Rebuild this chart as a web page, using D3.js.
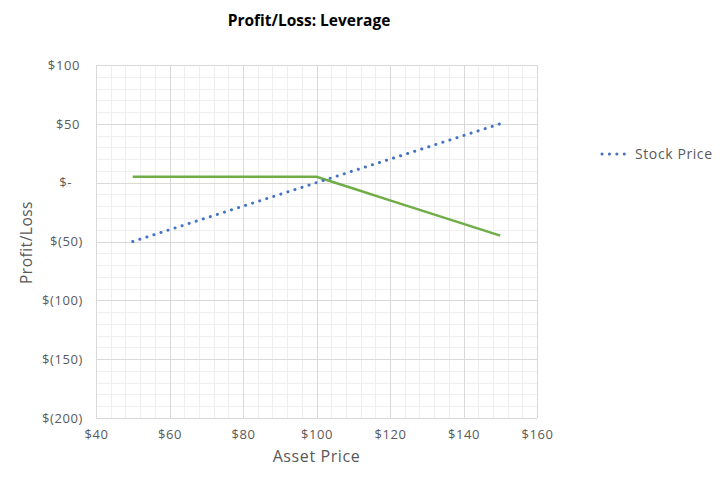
<!DOCTYPE html>
<html>
<head>
<meta charset="utf-8">
<script src="https://cdn.jsdelivr.net/npm/d3@7"></script>
<style>
  body { margin: 0; background: #fff; }
  svg { font-family: "Open Sans", "Noto Sans", sans-serif; }
</style>
</head>
<body>
<svg id="chart" width="720" height="477"></svg>
<script>
// asset price on x, profit/loss on y
var stockPrices = [50, 60, 70, 80, 90, 100, 110, 120, 130, 140, 150];
var stockPL = [-50, -40, -30, -20, -10, 0, 10, 20, 30, 40, 50];
var leveragePrices = [50, 60, 70, 80, 90, 100, 110, 120, 130, 140, 150];
var leveragePL = [5, 5, 5, 5, 5, 5, -5, -15, -25, -35, -45];
var xTicks = [40, 60, 80, 100, 120, 140, 160];
var yTicks = [100, 50, 0, -50, -100, -150, -200];

var svg = d3.select("#chart");
var margin = {top: 65, left: 96},
    plotW = 441,
    plotH = 353;

var x = d3.scaleLinear().domain([40, 160]).range([0, plotW]);
var y = d3.scaleLinear().domain([-200, 100]).range([plotH, 0]);

var g = svg.append("g").attr("transform", "translate(" + margin.left + "," + margin.top + ")");

// minor grid
g.append("g").selectAll("line")
    .data(d3.range(40, 161, 4))
  .enter().append("line")
    .attr("x1", function(d) { return Math.round(x(d)) + 0.5; })
    .attr("x2", function(d) { return Math.round(x(d)) + 0.5; })
    .attr("y1", 0).attr("y2", plotH)
    .attr("stroke", "#efefef");
g.append("g").selectAll("line")
    .data(d3.range(-200, 101, 10))
  .enter().append("line")
    .attr("y1", function(d) { return Math.round(y(d)) + 0.5; })
    .attr("y2", function(d) { return Math.round(y(d)) + 0.5; })
    .attr("x1", 0).attr("x2", plotW)
    .attr("stroke", "#efefef");

// major grid
g.append("g").selectAll("line")
    .data(xTicks)
  .enter().append("line")
    .attr("x1", function(d) { return Math.round(x(d)) + 0.5; })
    .attr("x2", function(d) { return Math.round(x(d)) + 0.5; })
    .attr("y1", 0).attr("y2", plotH)
    .attr("stroke", "#d9d9d9");
g.append("g").selectAll("line")
    .data(yTicks)
  .enter().append("line")
    .attr("y1", function(d) { return Math.round(y(d)) + 0.5; })
    .attr("y2", function(d) { return Math.round(y(d)) + 0.5; })
    .attr("x1", 0).attr("x2", plotW)
    .attr("stroke", "#d9d9d9");

// x axis labels
var xAxis = d3.axisBottom(x).tickValues(xTicks).tickSize(0).tickPadding(12)
    .tickFormat(function(d) { return "$" + d; });
g.append("g").attr("transform", "translate(0," + plotH + ")").call(xAxis)
    .call(function(a) { a.select(".domain").remove(); })
    .selectAll("text")
    .attr("font-size", "13px").attr("fill", "#595959")
    .attr("letter-spacing", "0.6px")
    .attr("font-family", "Open Sans");

// y axis labels (accounting style)
function money(d) {
    if (d === 0) return "$-";
    if (d < 0) return "$(" + (-d) + ")";
    return "$" + d;
}
var yAxis = d3.axisLeft(y).tickValues(yTicks).tickSize(0).tickPadding(16)
    .tickFormat(money);
g.append("g").call(yAxis)
    .call(function(a) { a.select(".domain").remove(); })
    .selectAll("text")
    .attr("font-size", "13px").attr("fill", "#595959")
    .attr("letter-spacing", "0.6px")
    .attr("font-family", "Open Sans")
    .attr("dx", function(d) { return d < 0 ? 3 : (d === 0 ? -8 : 0); });

var line = d3.line()
    .x(function(d) { return x(d[0]); })
    .y(function(d) { return y(d[1]); });

// leverage line
g.append("path")
    .datum(d3.zip(leveragePrices, leveragePL))
    .attr("fill", "none")
    .attr("stroke", "#70ad47")
    .attr("stroke-width", 2.5)
    .attr("d", line);

// stock price line
g.append("path")
    .datum(d3.zip(stockPrices, stockPL))
    .attr("fill", "none")
    .attr("stroke", "#4472c4")
    .attr("stroke-width", 3)
    .attr("stroke-linecap", "round")
    .attr("stroke-dasharray", "0.1 7.3")
    .attr("d", line);

// title
svg.append("text")
    .attr("x", 309).attr("y", 26)
    .attr("text-anchor", "middle")
    .attr("font-size", "15.5px").attr("font-weight", "bold")
    .attr("fill", "#000")
    .text("Profit/Loss: Leverage");

// axis titles
svg.append("text")
    .attr("x", margin.left + plotW / 2).attr("y", 462)
    .attr("text-anchor", "middle")
    .attr("font-size", "16px").attr("fill", "#595959")
    .attr("letter-spacing", "0.6px")
    .text("Asset Price");
svg.append("text")
    .attr("transform", "translate(32," + (margin.top + y(-50) + 1) + ") rotate(-90)")
    .attr("text-anchor", "middle")
    .attr("font-size", "15.5px").attr("fill", "#595959")
    .attr("letter-spacing", "0.5px")
    .text("Profit/Loss");

// legend
var lg = svg.append("g").attr("transform", "translate(602,154)");
lg.append("line")
    .attr("x1", 0).attr("x2", 28)
    .attr("stroke", "#4472c4").attr("stroke-width", 3)
    .attr("stroke-linecap", "round")
    .attr("stroke-dasharray", "0.1 7.3");
lg.append("text")
    .attr("x", 33).attr("y", 5)
    .attr("font-size", "14px").attr("fill", "#595959")
    .attr("letter-spacing", "0.6px")
    .text("Stock Price");
</script>
</body>
</html>
